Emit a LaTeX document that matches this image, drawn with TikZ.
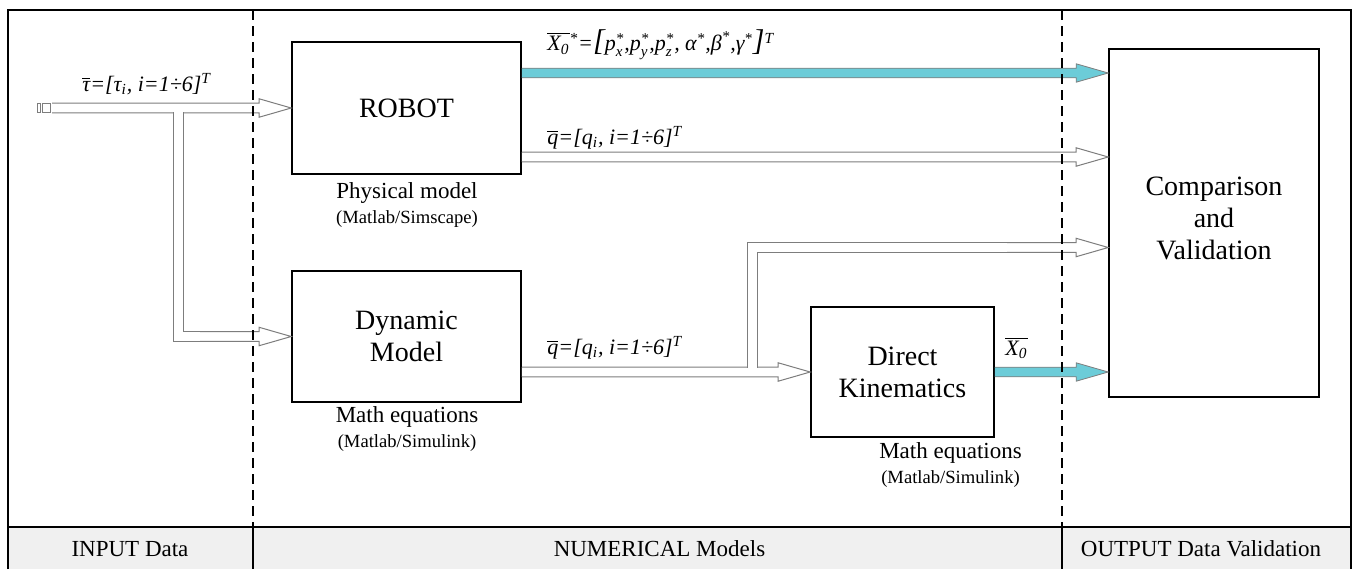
\documentclass[tikz,border=0pt]{standalone}
\usepackage{fontspec}
\setmainfont{Liberation Serif}
\usetikzlibrary{calc}
\definecolor{cyanarr}{RGB}{108,204,216}
\definecolor{arrgray}{RGB}{125,125,125}
\definecolor{stripgray}{RGB}{240,240,240}
\newcommand\harrow[3]{%
 \path[#1] let \p1=#2, \p2=#3 in
  (\x1,\y1+2.4pt) -- (\x2-16pt,\y1+2.4pt) -- (\x2-16pt,\y1+4.6pt) -- (\x2,\y1) -- (\x2-16pt,\y1-4.6pt) -- (\x2-16pt,\y1-2.4pt) -- (\x1,\y1-2.4pt);}
\newcommand\ob[1]{$\overline{\hbox{#1}}$}
\newcommand\scr[1]{\hbox{\fontsize{7.5}{7.5}\selectfont #1}}
\newcommand\ps[1]{$\hbox{p}^{\scr{*}}_{\scr{#1}}$}
\newcommand\gs[1]{$\hbox{#1}^{\scr{*}}$}
\begin{document}
\begin{tikzpicture}[x=0.5pt,y=-0.5pt,
  box/.style={draw=black, line width=0.8pt, inner sep=0pt, align=center, font=\fontsize{14}{16}\selectfont},
  boxtext/.style={align=center, inner sep=0pt, font=\fontsize{14}{16}\selectfont},
  hollow/.style={draw=arrgray, fill=white, line width=0.5pt, line join=miter},
  cyanarrow/.style={draw=arrgray, fill=cyanarr, line width=0.4pt},
  dbl/.style={draw=arrgray, line width=0.5pt, double=white, double distance=4.3pt, line join=miter},
  sep/.style={line width=0.8pt, dash pattern=on 5pt off 3pt},
  caption/.style={font=\fontsize{11.5}{13}\selectfont},
  small/.style={font=\fontsize{9.3}{10}\selectfont},
  formula/.style={font=\fontsize{11}{13}\selectfont\itshape, inner sep=0pt, anchor=west},
  strip/.style={font=\fontsize{11.5}{14}\selectfont}]
\useasboundingbox (0,0) rectangle (1356,569);
% bottom strip and frame
\fill[stripgray] (8,527) rectangle (1351,569);
\draw[line width=0.8pt] (8,569) -- (8,10) -- (1351,10) -- (1351,569);
\draw[line width=0.8pt] (8,527) -- (1351,527);
\draw[line width=0.8pt] (253,527) -- (253,569);
\draw[line width=0.8pt] (1062,527) -- (1062,569);
% boxes
\node[box, minimum width=114.5pt, minimum height=66pt] (robot) at (406.5,108) {ROBOT};
\node[box, minimum width=114.5pt, minimum height=65.5pt] (dyn) at (406.5,336.5) {Dynamic\\Model};
\node[box, minimum width=91.5pt, minimum height=65pt] (dk) at (902.5,372) {Direct\\Kinematics};
\node[box, minimum width=105pt, minimum height=174pt] (comp) at (1214,223) {};
\node[boxtext] (comptext) at (1214,218) {Comparison\\and\\Validation};
% captions
\node[caption] (pcap) at (407,193) {Physical model};
\node[small] (pcap2) at (407,219) {(Matlab/Simscape)};
\node[caption] (dcap) at (407,417) {Math equations};
\node[small] (dcap2) at (407,443) {(Matlab/Simulink)};
\node[caption] (kcap) at (950.5,453) {Math equations};
\node[small] (kcap2) at (950.5,479) {(Matlab/Simulink)};
% arrows
\coordinate (in) at (52,108);
\coordinate (insplit) at (178.3,112.3);
\coordinate (qsplit) at (752.5,367.7);
\draw[arrgray, line width=0.5pt] (37.7,103.5) rectangle (40.3,112.5);
\draw[arrgray, line width=0.5pt] (42.5,103.5) rectangle (50,112.5);
\harrow{hollow}{(in)}{(robot.west)}
\draw[dbl] (insplit) |- ($(dyn.west)+(-90,0)$);
\harrow{hollow}{($(dyn.west)+(-91,0)$)}{(dyn.west)}
\harrow{cyanarrow}{($(robot.east)+(0,-35)$)}{(comp.west)}
\harrow{hollow}{($(robot.east)+(0,49)$)}{(comp.west)}
\harrow{hollow}{(dyn.east |- dk.west)}{(dk.west)}
\draw[dbl] (qsplit) |- ($(comp.west)+(-100,24.5)$);
\harrow{hollow}{($(comp.west)+(-101,24.5)$)}{($(comp.west)+(0,24.5)$)}
\harrow{cyanarrow}{(dk.east)}{(comp.west)}
% labels
\node[formula] (taulab) at (82,84) {\ob{τ}=[τ\textsubscript{i}, i=1÷6]\textsuperscript{T}};
\node[formula] (x0slab) at (547,45) {\ob{X\textsubscript{0}}\textsuperscript{*}={\fontsize{15}{15}\selectfont[}\ps{x},\ps{y},\ps{z}, \gs{α},\gs{β},\gs{γ}{\fontsize{15}{15}\selectfont]}\textsuperscript{T}};
\node[formula] (q1lab) at (547,138) {\ob{q}=[q\textsubscript{i}, i=1÷6]\textsuperscript{T}};
\node[formula] (q2lab) at (547,348) {\ob{q}=[q\textsubscript{i}, i=1÷6]\textsuperscript{T}};
\node[formula] (x0lab) at (1005,348) {\ob{X\textsubscript{0}}};
% strip labels
\node[strip] (lin) at (130,549) {INPUT Data};
\node[strip] (lnum) at (659.5,549) {NUMERICAL Models};
\node[strip] (lout) at (1201,549) {OUTPUT Data Validation};
% separators
\draw[sep] (253,10) -- (253,527);
\draw[sep] (1062,10) -- (1062,527);
\end{tikzpicture}
\end{document}
